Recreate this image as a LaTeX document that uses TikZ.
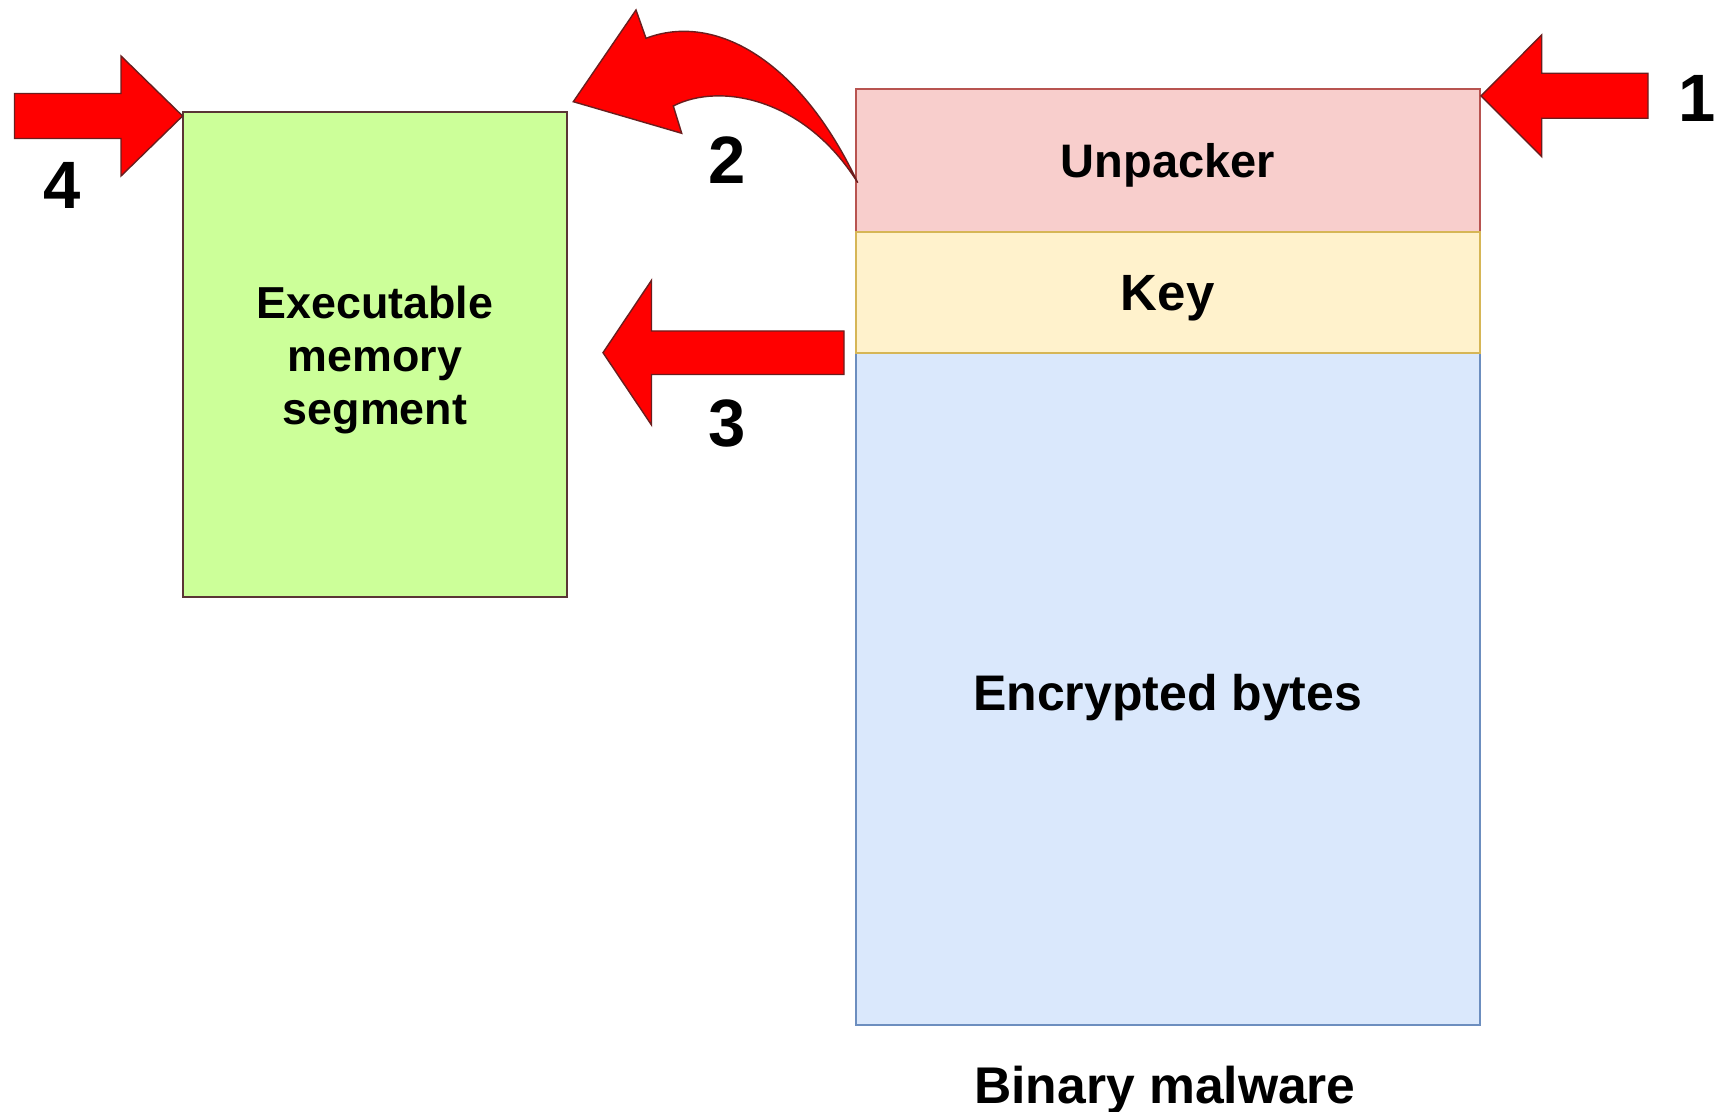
\documentclass[tikz,border=0pt]{standalone}
\usepackage{fontspec}
\setmainfont{Liberation Sans}
\usetikzlibrary{calc}
\definecolor{unpfill}{HTML}{F8CECC}
\definecolor{unpline}{HTML}{B85450}
\definecolor{keyfill}{HTML}{FFF2CC}
\definecolor{keyline}{HTML}{D6B656}
\definecolor{encfill}{HTML}{DAE8FC}
\definecolor{encline}{HTML}{6C8EBF}
\definecolor{exefill}{HTML}{CCFF99}
\definecolor{exeline}{HTML}{5A3535}
\definecolor{arrowred}{HTML}{FF0000}
\definecolor{arrowedge}{HTML}{6A1E1E}
\begin{document}
\begin{tikzpicture}[x=0.5pt,y=-0.5pt,
  box/.style={draw, line width=1pt, inner sep=0pt, outer sep=0pt},
  blockarrow/.style={fill=arrowred, draw=arrowedge, line width=0.7pt, line join=miter},
  num/.style={font=\fontsize{33.5}{40}\selectfont\bfseries, inner sep=0pt, anchor=base},
  caption/.style={font=\fontsize{25.8}{31}\selectfont\bfseries, inner sep=0pt, anchor=base}]
\useasboundingbox (0,0) rectangle (1725,1112);
% binary layout
\node[box, fill=unpfill, draw=unpline, minimum width=311.85pt, minimum height=71.5pt,
      font=\fontsize{23.5}{28}\selectfont\bfseries, text height=16.8pt, text depth=0pt]
      (unp) at (1167.75,160.6) {Unpacker};
\node[box, fill=encfill, draw=encline, minimum width=311.85pt, minimum height=336pt,
      font=\fontsize{25}{30}\selectfont\bfseries, text height=21.2pt, text depth=0pt]
      (enc) at (1167.75,689.1) {Encrypted bytes};
\node[box, fill=keyfill, draw=keyline, minimum width=311.85pt, minimum height=60.5pt,
      font=\fontsize{25.5}{30}\selectfont\bfseries, text height=18.3pt, text depth=0pt]
      (key) at (1167.75,292.6) {Key};
\node[caption] (bin) at (1165,1103.5) {Binary malware};
% executable memory segment
\node[box, fill=exefill, draw=exeline, minimum width=192.3pt, minimum height=242.55pt]
      (exe) at (374.95,354.75) {};
\node[align=center, inner sep=0pt, font=\fontsize{22.4}{26.4}\selectfont\bfseries]
      (exetext) at ($(exe.center)+(0,5.5)$) {Executable\\memory\\segment};
% arrow 1
\coordinate (t1) at (1481,95.8);
\path[blockarrow] (t1) -- (1541.7,35) -- (1541.7,73.3) -- (1648,73.3) -- (1648,118.3)
  -- (1541.7,118.3) -- (1541.7,156.7) -- cycle;
\node[num] (n1) at (1697,121.7) {1};
% arrow 2 (curved)
\coordinate (t2) at (573.3,101.7);
\path[blockarrow] (t2) -- (636,10) -- (646,38.3)
  .. controls (715,12) and (800,60) .. (857.7,182.7)
  .. controls (805,98) and (720,82) .. (673.3,106)
  -- (681.7,133.3) -- cycle;
\node[num] (n2) at (726.7,183.3) {2};
% arrow 3
\coordinate (t3) at (603,352.7);
\path[blockarrow] (t3) -- (651.5,280.3) -- (651.5,331) -- (844,331) -- (844,374.5)
  -- (651.5,374.5) -- (651.5,425) -- cycle;
\node[num] (n3) at (726.7,446.7) {3};
% arrow 4
\coordinate (t4) at (182.6,116);
\path[blockarrow] (t4) -- (121,176) -- (121,138.5) -- (14.5,138.5) -- (14.5,93.5)
  -- (121,93.5) -- (121,56) -- cycle;
\node[num] (n4) at (62,209) {4};
\end{tikzpicture}
\end{document}
